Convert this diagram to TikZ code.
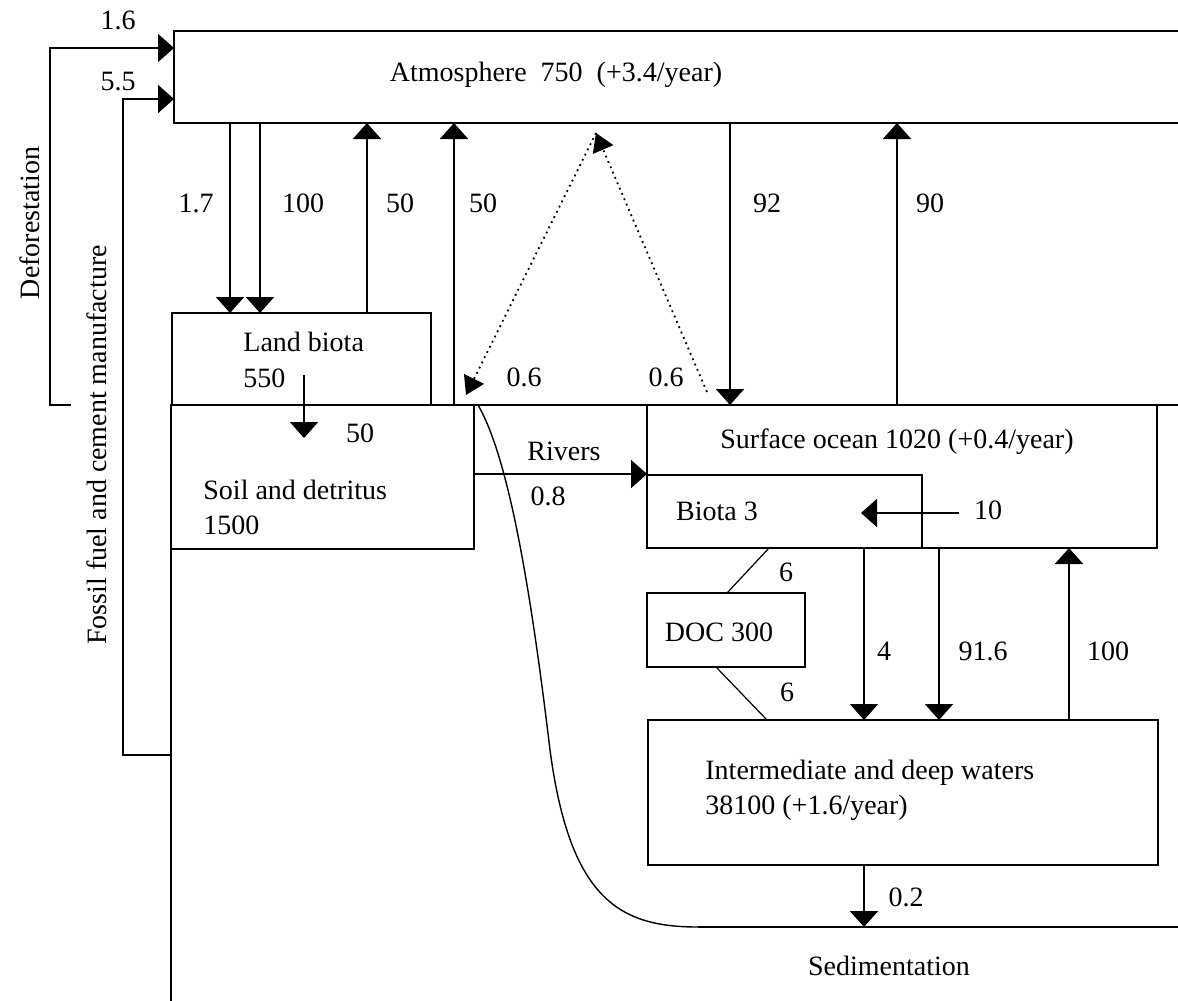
\documentclass[tikz,border=0pt]{standalone}
\usepackage{fontspec}
\setmainfont{Liberation Serif}
\usetikzlibrary{arrows.meta,fit}
\tikzset{
  box/.style={draw, inner sep=0pt, outer sep=0pt, line width=1pt},
  flow/.style={line width=1pt, -{Triangle[width=14pt,length=8pt]}},
  dotflow/.style={line width=0.9pt, dotted, -{Triangle[width=11pt,length=9pt]}},
  link/.style={line width=0.6pt},
  lbl/.style={inner sep=0pt},
}
\begin{document}
\begin{tikzpicture}[x=0.5pt, y=-0.5pt, font=\fontsize{14}{18}\selectfont]
  \clip (0,0) rectangle (1178,1001);
  % Reservoirs
  \node[box, fit={(174,31) (1200,123)}] (atm) {};
  \node[box, fit={(172,313) (431,405)}] (land) {};
  \node[box, fit={(171,405) (474,549)}] (soil) {};
  \node[box, fit={(647,405) (1157,548)}] (surf) {};
  \node[box, fit={(647,475) (922,548)}] (biota) {};
  \node[box, fit={(647,593) (805,667)}] (doc) {};
  \node[box, fit={(648,720) (1158,865)}] (deep) {};
  % Reservoir texts
  \node[lbl] (atm-t) at (556,75) {Atmosphere~~750~~(+3.4/year)};
  \node[lbl, anchor=west] (land-t) at (243,342) {Land biota};
  \node[lbl, anchor=west] (land-n) at (243,378) {550};
  \node[lbl, anchor=west] (soil-t) at (203,490) {Soil and detritus};
  \node[lbl, anchor=west] (soil-n) at (203,525) {1500};
  \node[lbl] (surf-t) at (897,442) {Surface ocean 1020 (+0.4/year)};
  \node[lbl] (biota-t) at (717,511) {Biota 3};
  \node[lbl] (doc-t) at (719,632) {DOC 300};
  \node[lbl, anchor=west] (deep-t) at (705,773) {Intermediate and deep waters};
  \node[lbl, anchor=west] (deep-n) at (705,808) {38100 (+1.6/year)};
  \node[lbl] (sed-t) at (889,966) {Sedimentation};
  \node[lbl, rotate=90] (defo-t) at (30,223) {Deforestation};
  \node[lbl, rotate=90] (fossil-t) at (97,445) {Fossil fuel and cement manufacture};
  % Free ends
  \coordinate (defo) at (71,405);
  \coordinate (ls) at (304,375);
  \coordinate (dtop) at (596,133);
  \coordinate (dland) at (466,395);
  \coordinate (docean) at (707,392);
  \coordinate (ten) at (959,513);
  \coordinate (cstart) at (478,405);
  \coordinate (sedline) at (698,927);
  % Ground and sea floor lines
  \draw[line width=1pt] (soil.north west) -- (soil.north west -| 1200,0);
  \draw[line width=1pt] (soil.north west) -- (soil.north west |- 0,1010);
  \draw[line width=1pt] (sedline) -- (sedline -| 1200,0);
  \draw[line width=0.7pt] (cstart) .. controls (510,460) and (532,600) .. (550,750)
        .. controls (570,900) and (620,927) .. (sedline);
  % Human inputs
  \draw[flow] (defo) -- ++(-21,0) |- (atm.west |- 0,48);
  \draw[flow] (soil.west |- 0,755) -- (123,755) -- (123,99) -- (atm.west |- 0,99);
  \node[lbl] (l-defo) at (118,20) {1.6};
  \node[lbl] (l-fossil) at (118,82) {5.5};
  % Atmosphere and land
  \draw[flow] (atm.south -| 230,0) -- (land.north -| 230,0);
  \draw[flow] (atm.south -| 260,0) -- (land.north -| 260,0);
  \draw[flow] (land.north -| 367,0) -- (atm.south -| 367,0);
  \draw[flow] (soil.north -| 454,0) -- (atm.south -| 454,0);
  \draw[flow] (ls) -- ++(0,63);
  \node[lbl] (l-17) at (196,203) {1.7};
  \node[lbl] (l-100a) at (303,203) {100};
  \node[lbl] (l-50a) at (400,203) {50};
  \node[lbl] (l-50b) at (483,203) {50};
  \node[lbl] (l-50c) at (360,433) {50};
  % Atmosphere and ocean
  \draw[flow] (atm.south -| 730,0) -- (surf.north -| 730,0);
  \draw[flow] (surf.north -| 897,0) -- (atm.south -| 897,0);
  \draw[dotflow] (dtop) -- (dland);
  \draw[dotflow] (docean) -- (dtop);
  \node[lbl] (l-92) at (767,203) {92};
  \node[lbl] (l-90) at (930,203) {90};
  \node[lbl] (l-06a) at (524,377) {0.6};
  \node[lbl] (l-06b) at (666,377) {0.6};
  % Rivers
  \draw[flow] (soil.east |- 0,474) -- (surf.west |- 0,474);
  \node[lbl] (l-riv) at (564,451) {Rivers};
  \node[lbl] (l-08) at (548,496) {0.8};
  % Ocean
  \draw[flow] (ten) -- ++(-98,0);
  \draw[flow] (biota.south -| 864,0) -- (deep.north -| 864,0);
  \draw[flow] (surf.south -| 939,0) -- (deep.north -| 939,0);
  \draw[flow] (deep.north -| 1069,0) -- (surf.south -| 1069,0);
  \draw[link] (biota.south -| 769,0) -- (doc.north -| 727,0);
  \draw[link] (doc.south -| 716,0) -- (deep.north -| 767,0);
  \draw[flow] (deep.south -| 864,0) -- (sedline -| 864,0);
  \node[lbl] (l-10) at (988,510) {10};
  \node[lbl] (l-6a) at (786,572) {6};
  \node[lbl] (l-6b) at (787,692) {6};
  \node[lbl] (l-4) at (884,651) {4};
  \node[lbl] (l-916) at (983,651) {91.6};
  \node[lbl] (l-100b) at (1108,651) {100};
  \node[lbl] (l-02) at (906,897) {0.2};
\end{tikzpicture}
\end{document}
